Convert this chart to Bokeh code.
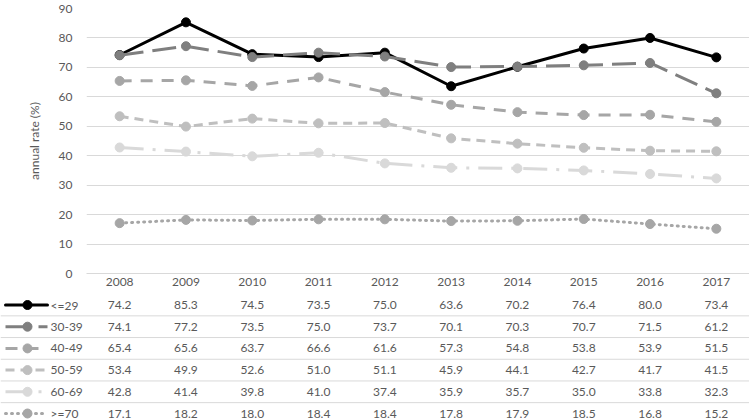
from bokeh.plotting import figure
from bokeh.layouts import column
from bokeh.models import Range1d, FixedTicker, Span, ColumnDataSource
from bokeh.embed import file_html
from bokeh.resources import INLINE
from bokeh.core.properties import value

# ---------------- data ----------------
years = ["2008", "2009", "2010", "2011", "2012", "2013", "2014", "2015", "2016", "2017"]
series_names = ["<=29", "30-39", "40-49", "50-59", "60-69", ">=70"]
s_le29 = [74.2, 85.3, 74.5, 73.5, 75.0, 63.6, 70.2, 76.4, 80.0, 73.4]
s_30_39 = [74.1, 77.2, 73.5, 75.0, 73.7, 70.1, 70.3, 70.7, 71.5, 61.2]
s_40_49 = [65.4, 65.6, 63.7, 66.6, 61.6, 57.3, 54.8, 53.8, 53.9, 51.5]
s_50_59 = [53.4, 49.9, 52.6, 51.0, 51.1, 45.9, 44.1, 42.7, 41.7, 41.5]
s_60_69 = [42.8, 41.4, 39.8, 41.0, 37.4, 35.9, 35.7, 35.0, 33.8, 32.3]
s_ge70 = [17.1, 18.2, 18.0, 18.4, 18.4, 17.8, 17.9, 18.5, 16.8, 15.2]
y_ticks = [0, 10, 20, 30, 40, 50, 60, 70, 80, 90]
y_label = "annual rate (%)"

all_series = [s_le29, s_30_39, s_40_49, s_50_59, s_60_69, s_ge70]

# ---------------- styles ----------------
colors = ["#000000", "#7f7f7f", "#a6a6a6", "#bfbfbf", "#d9d9d9", "#a6a6a6"]
dashes = ["solid", "24 9", "12 9", "9 6", "24 9 3 9", "1 5"]
caps = ["round", "butt", "butt", "butt", "butt", "round"]
FONT = value("Lato")
TXT = "#595959"
GRID = "#d9d9d9"

W = 749
LEFT = 86
TOP_BORDER = 8
FRAME_H = 265
TOP_H = 294
BOT_H = 126
x_idx = list(range(len(years)))
step = (W - LEFT) / len(years)

# ---------------- chart ----------------
p = figure(width=W, height=TOP_H, output_backend="svg", toolbar_location=None,
           x_range=Range1d(-0.5, len(years) - 0.5), y_range=Range1d(0, 90),
           min_border_left=LEFT, min_border_right=0, min_border_top=TOP_BORDER,
           min_border_bottom=TOP_H - TOP_BORDER - FRAME_H, tools="")
p.frame_align = False
p.outline_line_color = None
p.background_fill_color = "white"
p.border_fill_color = "white"
p.xgrid.visible = False
p.ygrid.grid_line_color = GRID
p.ygrid.grid_line_width = 1
p.ygrid.ticker = FixedTicker(ticks=y_ticks)

p.yaxis.ticker = FixedTicker(ticks=y_ticks)
p.yaxis.axis_line_color = None
p.yaxis.major_tick_line_color = None
p.yaxis.minor_tick_line_color = None
p.yaxis.major_tick_out = 0
p.yaxis.major_tick_in = 0
p.yaxis.major_label_standoff = 14
p.yaxis.major_label_text_font = "Lato"
p.yaxis.major_label_text_font_size = "12px"
p.yaxis.major_label_text_color = TXT
p.yaxis.axis_label = y_label
p.yaxis.axis_label_text_font = "Lato"
p.yaxis.axis_label_text_font_style = "normal"
p.yaxis.axis_label_text_font_size = "12px"
p.yaxis.axis_label_text_color = TXT
p.yaxis.axis_label_standoff = 14

p.xaxis.ticker = FixedTicker(ticks=x_idx)
p.xaxis.major_label_overrides = {i: y for i, y in zip(x_idx, years)}
p.xaxis.axis_line_color = GRID
p.xaxis.major_tick_line_color = None
p.xaxis.minor_tick_line_color = None
p.xaxis.major_tick_out = 0
p.xaxis.major_tick_in = 0
p.xaxis.major_label_standoff = 4
p.xaxis.major_label_text_font = "Lato"
p.xaxis.major_label_text_font_size = "12px"
p.xaxis.major_label_text_color = TXT

for vals, c, d, cap in zip(all_series, colors, dashes, caps):
    src = ColumnDataSource(dict(x=x_idx, y=vals))
    p.line("x", "y", source=src, line_color=c, line_width=3, line_dash=d,
           line_cap=cap, line_join="round")
    p.scatter("x", "y", source=src, size=9, fill_color=c, line_color=c)

# ---------------- data table ----------------
x0 = -0.5 - LEFT / step
row_h = 21.7
top_pad = 10.5
y_top = -top_pad / row_h
y_bot = y_top + BOT_H / row_h
t = figure(width=W, height=BOT_H, output_backend="svg", toolbar_location=None,
           x_range=Range1d(x0, len(years) - 0.5), y_range=Range1d(y_bot, y_top),
           x_axis_type=None, y_axis_type=None, min_border=0,
           min_border_left=0, min_border_right=0, min_border_top=0,
           min_border_bottom=0, tools="")
t.frame_align = False
t.outline_line_color = None
t.grid.visible = False
t.background_fill_color = "white"
t.border_fill_color = "white"

for j in range(len(series_names) - 1):
    t.add_layout(Span(location=j + 0.5, dimension="width", line_color=GRID, line_width=1))

def px(v):
    return x0 + v / step

for j, (name, vals, c, d, cap) in enumerate(zip(series_names, all_series, colors, dashes, caps)):
    t.line([px(5), px(47)], [j, j], line_color=c, line_width=3, line_dash=d, line_cap=cap)
    t.scatter([px(27)], [j], size=9, fill_color=c, line_color=c)
    t.text([px(50)], [j], text=[name], text_font=FONT, text_font_size="12px",
           text_color=TXT, text_baseline="middle", text_align="left")
    src = ColumnDataSource(dict(x=x_idx, y=[j] * len(vals), t=["%.1f" % v for v in vals]))
    t.text("x", "y", text="t", source=src, text_font=FONT, text_font_size="12px",
           text_color=TXT, text_baseline="middle", text_align="center")

layout = column(p, t, spacing=0)
open("out.html", "w").write(file_html(layout, INLINE))
